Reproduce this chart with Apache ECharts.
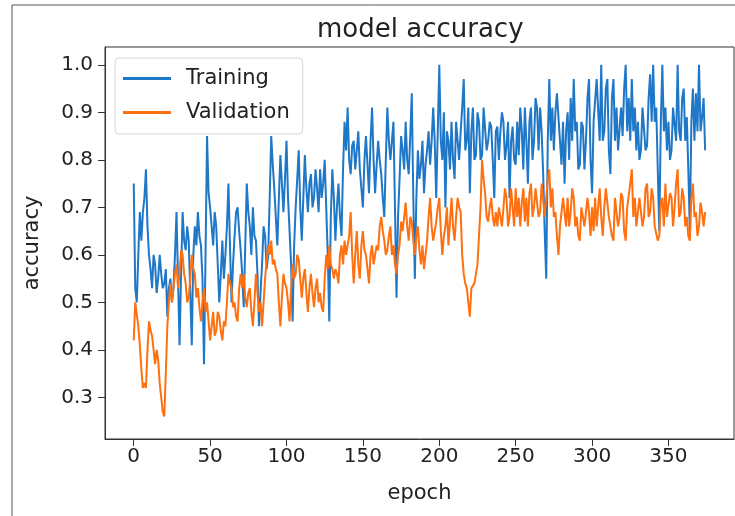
<!DOCTYPE html>
<html>
<head>
<meta charset="utf-8">
<title>model accuracy</title>
<script src="https://cdn.jsdelivr.net/npm/echarts@6/dist/echarts.min.js"></script>
<style>
  html, body { margin: 0; padding: 0; background: #fff; }
  #chart { width: 735px; height: 516px; }
</style>
</head>
<body>
<div id="chart"></div>
<script>
// values, one per epoch (0 .. 374)
const training = [
  0.75, 0.53, 0.50, 0.60, 0.69, 0.63, 0.69, 0.72, 0.78, 0.66,
  0.60, 0.57, 0.53, 0.60, 0.58, 0.52, 0.55, 0.60, 0.56, 0.53,
  0.54, 0.57, 0.47, 0.53, 0.55, 0.50, 0.53, 0.60, 0.69, 0.55,
  0.41, 0.56, 0.69, 0.63, 0.61, 0.66, 0.63, 0.52, 0.41, 0.60,
  0.66, 0.62, 0.69, 0.64, 0.62, 0.55, 0.37, 0.60, 0.85, 0.73,
  0.70, 0.66, 0.62, 0.69, 0.66, 0.58, 0.50, 0.56, 0.63, 0.55,
  0.60, 0.66, 0.75, 0.62, 0.50, 0.58, 0.64, 0.69, 0.70, 0.65,
  0.61, 0.56, 0.49, 0.62, 0.75, 0.69, 0.66, 0.60, 0.70, 0.64,
  0.63, 0.56, 0.45, 0.52, 0.58, 0.66, 0.64, 0.57, 0.60, 0.72,
  0.85, 0.79, 0.74, 0.68, 0.62, 0.72, 0.81, 0.75, 0.69, 0.76,
  0.84, 0.72, 0.65, 0.58, 0.46, 0.62, 0.70, 0.76, 0.82, 0.70,
  0.63, 0.72, 0.81, 0.74, 0.69, 0.75, 0.77, 0.70, 0.72, 0.78,
  0.74, 0.69, 0.78, 0.72, 0.75, 0.80, 0.70, 0.60, 0.46, 0.68,
  0.78, 0.72, 0.63, 0.70, 0.75, 0.68, 0.64, 0.78, 0.88, 0.82,
  0.91, 0.80, 0.77, 0.83, 0.84, 0.78, 0.82, 0.86, 0.78, 0.74,
  0.70, 0.80, 0.85, 0.79, 0.73, 0.84, 0.91, 0.80, 0.73, 0.79,
  0.84, 0.80, 0.77, 0.72, 0.68, 0.80, 0.91, 0.84, 0.80, 0.84,
  0.88, 0.70, 0.51, 0.68, 0.76, 0.85, 0.82, 0.78, 0.88, 0.80,
  0.77, 0.85, 0.94, 0.72, 0.55, 0.72, 0.82, 0.76, 0.79, 0.84,
  0.73, 0.79, 0.82, 0.86, 0.79, 0.84, 0.91, 0.84, 0.72, 0.86,
  1.00, 0.84, 0.80, 0.90, 0.70, 0.86, 0.84, 0.78, 0.88, 0.80,
  0.76, 0.88, 0.84, 0.80, 0.86, 0.91, 0.97, 0.82, 0.84, 0.91,
  0.73, 0.86, 0.91, 0.80, 0.81, 0.90, 0.88, 0.80, 0.81, 0.91,
  0.91, 0.82, 0.84, 0.88, 0.87, 0.80, 0.72, 0.86, 0.87, 0.80,
  0.86, 0.90, 0.88, 0.80, 0.83, 0.88, 0.72, 0.84, 0.87, 0.80,
  0.79, 0.88, 0.81, 0.91, 0.86, 0.78, 0.91, 0.84, 0.75, 0.88,
  0.91, 0.80, 0.84, 0.93, 0.91, 0.82, 0.91, 0.86, 0.77, 0.65,
  0.55, 0.84, 0.97, 0.84, 0.91, 0.82, 0.90, 0.94, 0.94, 0.84,
  0.79, 0.88, 0.75, 0.86, 0.90, 0.80, 0.93, 0.84, 0.97, 0.86,
  0.88, 0.78, 0.79, 0.88, 0.87, 0.78, 0.84, 0.93, 0.97, 0.80,
  0.73, 0.88, 0.88, 0.97, 0.97, 0.84, 1.00, 0.84, 0.86, 0.95,
  0.97, 0.82, 0.77, 0.93, 0.97, 0.84, 0.91, 0.82, 0.82, 0.91,
  0.85, 0.95, 1.00, 0.86, 0.93, 0.84, 0.97, 0.86, 0.91, 0.82,
  0.88, 0.80, 0.82, 0.91, 0.91, 0.82, 0.83, 0.93, 0.98, 0.88,
  1.00, 0.88, 0.91, 0.78, 0.65, 0.88, 1.00, 0.86, 0.91, 0.82,
  0.88, 0.80, 0.82, 0.91, 0.91, 0.84, 1.00, 0.86, 0.84, 0.93,
  0.95, 0.84, 0.89, 0.78, 0.65, 0.88, 0.95, 0.84, 0.94, 0.86,
  1.00, 0.86, 0.89, 0.93, 0.82
];

const validation = [
  0.42, 0.50, 0.50, 0.45, 0.41, 0.36, 0.32, 0.33, 0.32, 0.40,
  0.46, 0.44, 0.43, 0.40, 0.37, 0.40, 0.38, 0.33, 0.30, 0.27,
  0.26, 0.35, 0.45, 0.50, 0.54, 0.50, 0.53, 0.56, 0.58, 0.53,
  0.56, 0.61, 0.60, 0.56, 0.54, 0.50, 0.51, 0.55, 0.60, 0.57,
  0.56, 0.51, 0.53, 0.49, 0.46, 0.50, 0.53, 0.48, 0.50, 0.46,
  0.42, 0.45, 0.48, 0.43, 0.44, 0.48, 0.47, 0.44, 0.42, 0.46,
  0.45, 0.50, 0.56, 0.54, 0.53, 0.49, 0.50, 0.47, 0.46, 0.53,
  0.56, 0.53, 0.56, 0.51, 0.49, 0.52, 0.53, 0.48, 0.45, 0.50,
  0.56, 0.52, 0.48, 0.50, 0.45, 0.50, 0.55, 0.59, 0.62, 0.60,
  0.63, 0.58, 0.59, 0.57, 0.56, 0.50, 0.45, 0.51, 0.56, 0.54,
  0.53, 0.50, 0.46, 0.53, 0.58, 0.55, 0.56, 0.60, 0.59, 0.55,
  0.51, 0.55, 0.57, 0.52, 0.48, 0.53, 0.56, 0.52, 0.49, 0.53,
  0.55, 0.50, 0.52, 0.49, 0.48, 0.55, 0.60, 0.57, 0.62, 0.58,
  0.57, 0.55, 0.57, 0.56, 0.54, 0.60, 0.62, 0.58, 0.63, 0.60,
  0.60, 0.64, 0.69, 0.60, 0.54, 0.60, 0.65, 0.58, 0.55, 0.62,
  0.65, 0.61, 0.60, 0.57, 0.54, 0.60, 0.62, 0.58, 0.60, 0.62,
  0.61, 0.66, 0.68, 0.65, 0.63, 0.60, 0.61, 0.64, 0.66, 0.60,
  0.62, 0.58, 0.56, 0.60, 0.62, 0.67, 0.65, 0.68, 0.71, 0.66,
  0.63, 0.68, 0.67, 0.63, 0.60, 0.64, 0.66, 0.61, 0.58, 0.62,
  0.57, 0.60, 0.63, 0.68, 0.72, 0.66, 0.63, 0.65, 0.67, 0.70,
  0.72, 0.65, 0.60, 0.64, 0.66, 0.70, 0.62, 0.67, 0.72, 0.66,
  0.63, 0.68, 0.72, 0.70, 0.69, 0.60, 0.56, 0.54, 0.53, 0.53,
  0.47, 0.53, 0.53, 0.54, 0.54, 0.58, 0.64, 0.70, 0.80, 0.76,
  0.73, 0.68, 0.67, 0.70, 0.72, 0.68, 0.66, 0.69, 0.66, 0.70,
  0.70, 0.66, 0.70, 0.74, 0.72, 0.66, 0.68, 0.74, 0.70, 0.66,
  0.74, 0.68, 0.72, 0.66, 0.71, 0.74, 0.67, 0.72, 0.66, 0.73,
  0.75, 0.68, 0.70, 0.74, 0.74, 0.68, 0.69, 0.75, 0.75, 0.68,
  0.72, 0.76, 0.78, 0.70, 0.74, 0.68, 0.69, 0.64, 0.60, 0.66,
  0.66, 0.72, 0.69, 0.66, 0.72, 0.66, 0.69, 0.74, 0.72, 0.66,
  0.68, 0.64, 0.63, 0.70, 0.70, 0.66, 0.66, 0.72, 0.69, 0.64,
  0.70, 0.65, 0.72, 0.66, 0.70, 0.74, 0.68, 0.64, 0.70, 0.74,
  0.74, 0.68, 0.68, 0.64, 0.63, 0.72, 0.72, 0.66, 0.68, 0.73,
  0.72, 0.65, 0.63, 0.70, 0.70, 0.75, 0.78, 0.68, 0.72, 0.66,
  0.66, 0.72, 0.72, 0.66, 0.68, 0.74, 0.75, 0.68, 0.69, 0.74,
  0.72, 0.66, 0.66, 0.63, 0.64, 0.71, 0.72, 0.66, 0.75, 0.68,
  0.68, 0.73, 0.72, 0.66, 0.70, 0.75, 0.78, 0.68, 0.69, 0.74,
  0.72, 0.66, 0.68, 0.64, 0.63, 0.72, 0.75, 0.68, 0.69, 0.64,
  0.66, 0.71, 0.69, 0.66, 0.69
];

const xTicks = [0, 50, 100, 150, 200, 250, 300, 350];
const yTicks = [0.3, 0.4, 0.5, 0.6, 0.7, 0.8, 0.9, 1.0];

const font = 'DejaVu Sans';
const textColor = '#222';

function pairs(values) {
  return values.map((v, i) => [i, v]);
}

const chart = echarts.init(document.getElementById('chart'));
chart.setOption({
  animation: false,
  backgroundColor: '#fff',
  textStyle: { fontFamily: font },
  title: {
    text: 'model accuracy',
    left: 312,
    top: 12,
    textStyle: { fontFamily: font, fontSize: 26, fontWeight: 'normal', color: textColor }
  },
  graphic: [
    { type: 'line', shape: { x1: 12, y1: 5, x2: 735, y2: 5 }, style: { stroke: '#555', lineWidth: 1 } },
    { type: 'line', shape: { x1: 12, y1: 5, x2: 12, y2: 516 }, style: { stroke: '#555', lineWidth: 1 } }
  ],
  legend: {
    orient: 'vertical',
    left: 115,
    top: 58,
    padding: [10, 13, 11, 8],
    itemGap: 13,
    itemWidth: 48,
    itemHeight: 3,
    backgroundColor: 'rgba(255,255,255,0.8)',
    borderColor: '#d6d6d6',
    borderWidth: 1,
    borderRadius: 4,
    icon: 'rect',
    textStyle: { fontFamily: font, fontSize: 21, color: textColor, padding: [0, 0, 0, 10] },
    data: ['Training', 'Validation']
  },
  grid: {
    left: 105,
    top: 47,
    right: 1,
    bottom: 77,
    show: true,
    borderColor: '#333',
    borderWidth: 1,
    containLabel: false
  },
  xAxis: {
    type: 'value',
    min: -18.8,
    max: 392.9,
    name: 'epoch',
    nameLocation: 'middle',
    nameGap: 44,
    nameTextStyle: { fontFamily: font, fontSize: 21, color: textColor },
    axisLine: { show: true, onZero: false, lineStyle: { color: '#333' } },
    axisTick: { show: true, length: 7, customValues: xTicks, lineStyle: { color: '#333' } },
    axisLabel: { fontFamily: font, fontSize: 20, color: textColor, margin: 8, customValues: xTicks },
    splitLine: { show: false }
  },
  yAxis: {
    type: 'value',
    min: 0.2125,
    max: 1.0375,
    name: 'accuracy',
    nameLocation: 'middle',
    nameGap: 62,
    nameRotate: 90,
    nameTextStyle: { fontFamily: font, fontSize: 21, color: textColor },
    axisLine: { show: true, onZero: false, lineStyle: { color: '#333' } },
    axisTick: { show: true, length: 7, customValues: yTicks, lineStyle: { color: '#333' } },
    axisLabel: {
      fontFamily: font, fontSize: 20, color: textColor, margin: 12,
      customValues: yTicks,
      formatter: (v) => v.toFixed(1)
    },
    splitLine: { show: false }
  },
  series: [
    {
      name: 'Training',
      type: 'line',
      data: pairs(training),
      showSymbol: false,
      color: '#1f77c8',
      lineStyle: { width: 2, color: '#1f77c8' }
    },
    {
      name: 'Validation',
      type: 'line',
      data: pairs(validation),
      showSymbol: false,
      color: '#ff7010',
      lineStyle: { width: 2, color: '#ff7010' }
    }
  ]
});
</script>
</body>
</html>
